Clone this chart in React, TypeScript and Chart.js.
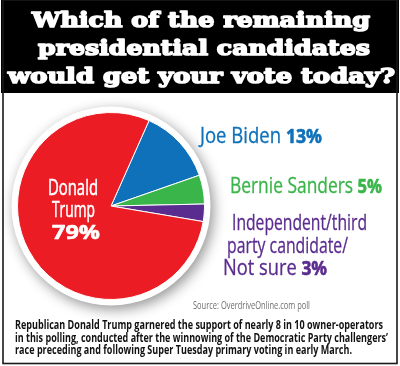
import React, { useEffect, useRef } from "react";
import { Chart, registerables } from "chart.js";

Chart.register(...registerables);

const titleLines = [
  "Which of the remaining",
  "presidential candidates",
  "would get your vote today?",
];
const categories = [
  "Joe Biden",
  "Bernie Sanders",
  "Independent/third party candidate/Not sure",
  "Donald Trump",
];
const shares = [13, 5, 3, 79];
const sliceColors = ["#0F71B9", "#3AB54A", "#5B2C8F", "#EC1C24"];
const sourceText = "Source: OverdriveOnline.com poll";
const footerLines = [
  "Republican Donald Trump garnered the support of nearly 8 in 10 owner-operators",
  "in this polling, conducted after the winnowing of the Democratic Party challengers\u2019",
  "race preceding and following Super Tuesday primary voting in early March.",
];

type Part = { text: string; font: string; color: string; stroke?: number };

function fitText(
  ctx: CanvasRenderingContext2D,
  parts: Part[],
  x: number,
  baseline: number,
  width: number,
  align: "left" | "center" = "left",
  stroke = 0
) {
  let total = 0;
  const ws: number[] = [];
  for (const p of parts) {
    ctx.font = p.font;
    const w = ctx.measureText(p.text).width;
    ws.push(w);
    total += w;
  }
  const s = width / total;
  const startX = align === "center" ? x - width / 2 : x;
  ctx.save();
  ctx.translate(startX, baseline);
  ctx.scale(s, 1);
  ctx.textAlign = "left";
  ctx.textBaseline = "alphabetic";
  let cx = 0;
  parts.forEach((p, i) => {
    ctx.font = p.font;
    ctx.fillStyle = p.color;
    ctx.fillText(p.text, cx, 0);
    const sw = p.stroke ?? stroke;
    if (sw > 0) {
      ctx.strokeStyle = p.color;
      ctx.lineWidth = sw;
      ctx.lineJoin = "round";
      ctx.strokeText(p.text, cx, 0);
    }
    cx += ws[i];
  });
  ctx.restore();
}

const SANS = '"Open Sans", "Noto Sans", sans-serif';

const decorPlugin = {
  id: "decor",
  beforeDraw(chart: any) {
    const ctx: CanvasRenderingContext2D = chart.ctx;
    ctx.save();
    ctx.fillStyle = "#ffffff";
    ctx.fillRect(0, 0, chart.width, chart.height);
    ctx.fillStyle = "#000000";
    ctx.fillRect(1, 0, 398, 93);
    ctx.strokeStyle = "#1a1a1a";
    ctx.lineWidth = 1.6;
    ctx.strokeRect(3, 0, 394, 363.5);
    ctx.restore();
    const tf = 'bold 21px "DejaVu Serif", serif';
    fitText(ctx, [{ text: titleLines[0], font: tf, color: "#fff" }], 201, 27, 338, "center", 1.6);
    fitText(ctx, [{ text: titleLines[1], font: tf, color: "#fff" }], 204, 55, 332, "center", 1.6);
    fitText(ctx, [{ text: titleLines[2], font: tf, color: "#fff" }], 201.5, 83, 387, "center", 1.6);
  },
  beforeDatasetsDraw(chart: any) {
    const meta = chart.getDatasetMeta(0);
    const arc = meta.data[0];
    if (!arc) return;
    const ctx: CanvasRenderingContext2D = chart.ctx;
    ctx.save();
    ctx.beginPath();
    ctx.arc(arc.x, arc.y, arc.outerRadius + 6, 0, Math.PI * 2);
    ctx.fillStyle = "#ffffff";
    ctx.shadowColor = "rgba(0,0,0,0.42)";
    ctx.shadowBlur = 13;
    ctx.shadowOffsetX = 3;
    ctx.shadowOffsetY = 4;
    ctx.fill();
    ctx.restore();
  },
  afterDatasetsDraw(chart: any) {
    const ctx: CanvasRenderingContext2D = chart.ctx;
    const reg = (sz: number) => `${sz}px ${SANS}`;
    const bold = (sz: number) => `bold ${sz}px ${SANS}`;
    const trumpName = categories[3].split(" ");
    fitText(ctx, [{ text: trumpName[0], font: reg(22), color: "#fff" }], 73, 195, 50, "center", 0.6);
    fitText(ctx, [{ text: trumpName[1], font: reg(22), color: "#fff" }], 73.5, 217, 43, "center", 0.6);
    fitText(ctx, [{ text: `${shares[3]}%`, font: bold(20), color: "#fff" }], 76, 239, 48, "center", 0.6);
    fitText(
      ctx,
      [
        { text: categories[0] + " ", font: reg(21), color: sliceColors[0], stroke: 0.3 },
        { text: `${shares[0]}%`, font: bold(20), color: sliceColors[0], stroke: 0.6 },
      ],
      200,
      143,
      122
    );
    fitText(
      ctx,
      [
        { text: categories[1] + " ", font: reg(21), color: sliceColors[1], stroke: 0.3 },
        { text: `${shares[1]}%`, font: bold(20), color: sliceColors[1], stroke: 0.6 },
      ],
      230,
      193,
      152
    );
    const o = categories[2].split("/");
    fitText(ctx, [{ text: o[0] + "/" + o[1].split(" ")[0], font: reg(21), color: sliceColors[2] }], 232, 230, 135, "left", 0.3);
    fitText(ctx, [{ text: o[1].split(" ").slice(1).join(" ") + "/", font: reg(21), color: sliceColors[2] }], 227, 253, 121, "left", 0.3);
    fitText(
      ctx,
      [
        { text: o[2] + " ", font: reg(21), color: sliceColors[2], stroke: 0.3 },
        { text: `${shares[2]}%`, font: bold(20), color: sliceColors[2], stroke: 0.6 },
      ],
      223,
      275,
      104
    );
    fitText(ctx, [{ text: sourceText, font: reg(10), color: "#6d6d6d" }], 193, 309, 117);
    const ff = `bold 12px ${SANS}`;
    fitText(ctx, [{ text: footerLines[0], font: ff, color: "#111" }], 15, 329, 368);
    fitText(ctx, [{ text: footerLines[1], font: ff, color: "#111" }], 15, 341.5, 373);
    fitText(ctx, [{ text: footerLines[2], font: ff, color: "#111" }], 15, 354, 337);
  },
};

export default function App() {
  const ref = useRef<HTMLCanvasElement | null>(null);
  useEffect(() => {
    document.body.style.margin = "0";
    if (!ref.current) return;
    const chart = new Chart(ref.current, {
      type: "pie",
      data: {
        labels: categories,
        datasets: [
          {
            data: shares,
            backgroundColor: sliceColors,
            borderColor: "#ffffff",
            borderWidth: 1,
          },
        ],
      },
      options: {
        animation: false,
        responsive: false,
        devicePixelRatio: 1,
        rotation: 24,
        layout: { padding: { left: 17, right: 195, top: 112, bottom: 66 } },
        plugins: {
          legend: { display: false },
          tooltip: { enabled: false },
          title: { display: false },
        },
      },
      plugins: [decorPlugin],
    });
    return () => chart.destroy();
  }, []);
  return <canvas ref={ref} width={400} height={366} style={{ display: "block" }} />;
}
